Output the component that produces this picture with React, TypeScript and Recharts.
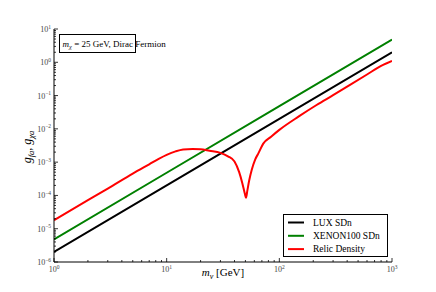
import { LineChart, Line, XAxis, YAxis, Legend } from 'recharts';

// readings for the exclusion limits (straight lines in log-log)
const limitMass = [1, 10, 100, 1000];
const luxSDn = [2e-6, 2e-4, 2e-2, 2];
const xenonSDn = [4.8e-6, 4.8e-4, 4.8e-2, 4.8];

// relic density curve
const relicMass = [1, 2, 3, 5, 7, 8.5, 10, 12, 14, 17, 20, 24, 30, 35, 40, 44, 47, 49.5, 50.6, 52, 54, 57, 61, 65, 72, 85, 100, 150, 214, 300, 424, 600, 800, 1000];
const relicCoupling = [1.8e-5, 7.2e-5, 1.6e-4, 4.5e-4, 8.6e-4, 1.25e-3, 1.65e-3, 2.1e-3, 2.4e-3, 2.5e-3, 2.45e-3, 2.2e-3, 1.9e-3, 1.5e-3, 1.05e-3, 5e-4, 2.3e-4, 1.1e-4, 8.5e-5, 1.4e-4, 2.8e-4, 6e-4, 1.2e-3, 1.8e-3, 3.6e-3, 5.9e-3, 9.3e-3, 2.4e-2, 5.2e-2, 0.103, 0.21, 0.43, 0.78, 1.1];

const seriesNames = ['LUX SDn', 'XENON100 SDn', 'Relic Density'];

const xMajor = [1, 10, 100, 1000];
const xExp = ['0', '1', '2', '3'];
const xMinor = [2, 3, 4, 5, 6, 7, 8, 9, 20, 30, 40, 50, 60, 70, 80, 90, 200, 300, 400, 500, 600, 700, 800, 900];
const yMajor = [1e-6, 1e-5, 1e-4, 1e-3, 1e-2, 1e-1, 1, 10];
const yExp = ['\u22126', '\u22125', '\u22124', '\u22123', '\u22122', '\u22121', '0', '1'];
const yMinor = [
  2e-6, 3e-6, 4e-6, 5e-6, 6e-6, 7e-6, 8e-6, 9e-6,
  2e-5, 3e-5, 4e-5, 5e-5, 6e-5, 7e-5, 8e-5, 9e-5,
  2e-4, 3e-4, 4e-4, 5e-4, 6e-4, 7e-4, 8e-4, 9e-4,
  2e-3, 3e-3, 4e-3, 5e-3, 6e-3, 7e-3, 8e-3, 9e-3,
  2e-2, 3e-2, 4e-2, 5e-2, 6e-2, 7e-2, 8e-2, 9e-2,
  0.2, 0.3, 0.4, 0.5, 0.6, 0.7, 0.8, 0.9,
  2, 3, 4, 5, 6, 7, 8, 9,
];

const limitData = limitMass.map((m, i) => ({ m, lux: luxSDn[i], xenon: xenonSDn[i] }));
const relicData = relicMass.map((m, i) => ({ m, relic: relicCoupling[i] }));

const FONT = '"Liberation Serif", "DejaVu Serif", serif';
const TICK_COLOR = '#444';

function tickLen(v: number, major: number[]) {
  return major.some(t => Math.abs(t / v - 1) < 1e-9) ? 4 : 2;
}

function BottomTick(props: any) {
  const { x, y, payload } = props;
  const i = xMajor.findIndex(t => Math.abs(t / payload.value - 1) < 1e-9);
  return (
    <g>
      <line x1={x} x2={x} y1={y} y2={y - tickLen(payload.value, xMajor)} stroke="#000" strokeWidth={0.8} />
      {i >= 0 && (
        <text x={x} y={y + 10} textAnchor="middle" fontSize={8} fill={TICK_COLOR} fontFamily={FONT}>
          10<tspan dy={-3.5} fontSize={5.5}>{xExp[i]}</tspan>
        </text>
      )}
    </g>
  );
}

function TopTick(props: any) {
  const { x, y, payload } = props;
  return <line x1={x} x2={x} y1={y} y2={y + tickLen(payload.value, xMajor)} stroke="#000" strokeWidth={0.8} />;
}

function LeftTick(props: any) {
  const { x, y, payload } = props;
  const i = yMajor.findIndex(t => Math.abs(t / payload.value - 1) < 1e-9);
  return (
    <g>
      <line x1={x} x2={x + tickLen(payload.value, yMajor)} y1={y} y2={y} stroke="#000" strokeWidth={0.8} />
      {i >= 0 && (
        <text x={x - 3} y={y + 3} textAnchor="end" fontSize={8} fill={TICK_COLOR} fontFamily={FONT}>
          10<tspan dy={-3.5} fontSize={5.5}>{yExp[i]}</tspan>
        </text>
      )}
    </g>
  );
}

function RightTick(props: any) {
  const { x, y, payload } = props;
  return <line x1={x} x2={x - tickLen(payload.value, yMajor)} y1={y} y2={y} stroke="#000" strokeWidth={0.8} />;
}

function LegendBox(props: any) {
  const items = [...(props.payload || [])].sort(
    (a: any, b: any) => seriesNames.indexOf(a.value) - seriesNames.indexOf(b.value)
  );
  return (
    <svg width={105} height={43} style={{ display: 'block' }}>
      <rect x={0.5} y={0.5} width={104} height={42} fill="#fff" stroke="#000" strokeWidth={1} />
      {items.map((it: any, i: number) => (
        <g key={it.value}>
          <line x1={5} x2={21} y1={8.5 + i * 13.3} y2={8.5 + i * 13.3} stroke={it.color} strokeWidth={2} />
          <text x={30} y={11.8 + i * 13.3} fontSize={9.5} fontFamily={FONT} fill="#000">{it.value}</text>
        </g>
      ))}
    </svg>
  );
}

export default function App() {
  return (
    <div style={{ position: 'relative', width: 436, height: 292, background: '#fff' }}>
      <style>{'body{margin:0}'}</style>
      <LineChart width={436} height={292} margin={{ top: 29, left: 14, right: 44, bottom: 0 }}>
        <XAxis
          xAxisId="b" dataKey="m" type="number" scale="log" domain={[1, 1000]} allowDataOverflow
          ticks={[...xMajor, ...xMinor]} interval={0} height={30} tickSize={0} tickMargin={0}
          tickLine={false} axisLine={{ stroke: '#000', strokeWidth: 1 }} tick={BottomTick}
        />
        <XAxis
          xAxisId="t" orientation="top" dataKey="m" type="number" scale="log" domain={[1, 1000]} allowDataOverflow
          ticks={[...xMajor, ...xMinor]} interval={0} height={0} tickSize={0} tickMargin={0}
          tickLine={false} axisLine={{ stroke: '#000', strokeWidth: 1 }} tick={TopTick}
        />
        <YAxis
          yAxisId="l" type="number" scale="log" domain={[1e-6, 10]} allowDataOverflow
          ticks={[...yMajor, ...yMinor]} interval={0} width={40} tickSize={0} tickMargin={0}
          tickLine={false} axisLine={{ stroke: '#000', strokeWidth: 1 }} tick={LeftTick}
        />
        <YAxis
          yAxisId="r" orientation="right" type="number" scale="log" domain={[1e-6, 10]} allowDataOverflow
          ticks={[...yMajor, ...yMinor]} interval={0} width={0} tickSize={0} tickMargin={0}
          tickLine={false} axisLine={{ stroke: '#000', strokeWidth: 1 }} tick={RightTick}
        />
        <Line xAxisId="b" yAxisId="l" data={limitData} dataKey="lux" name={seriesNames[0]} stroke="#000000" strokeWidth={2} dot={false} type="linear" isAnimationActive={false} />
        <Line xAxisId="b" yAxisId="l" data={limitData} dataKey="xenon" name={seriesNames[1]} stroke="#008000" strokeWidth={2} dot={false} type="linear" isAnimationActive={false} />
        <Line xAxisId="b" yAxisId="l" data={relicData} dataKey="relic" name={seriesNames[2]} stroke="#ff0000" strokeWidth={2} dot={false} type="monotone" isAnimationActive={false} />
        <Legend
          layout="vertical" align="center" verticalAlign="middle"
          wrapperStyle={{ position: 'absolute', left: 283, top: 214, width: 105, height: 43 }}
          content={LegendBox}
        />
      </LineChart>
      <svg width={436} height={292} style={{ position: 'absolute', left: 0, top: 0, pointerEvents: 'none' }} fontFamily={FONT}>
        <rect x={59.5} y={34.5} width={76} height={18} fill="#fff" stroke="#000" strokeWidth={1} />
        <text x={62.5} y={46.5} fontSize={9} fill="#000">
          <tspan fontStyle="italic">m</tspan>
          <tspan dy={2} fontSize={6.5} fontStyle="italic">χ</tspan>
          <tspan dy={-2}> = 25 GeV, Dirac Fermion</tspan>
        </text>
        <text x={223} y={276} fontSize={11} textAnchor="middle" fill="#000">
          <tspan fontStyle="italic">m</tspan>
          <tspan dy={2.5} fontSize={8} fontStyle="italic">v</tspan>
          <tspan dy={-2.5}> [GeV]</tspan>
        </text>
        <text x={0} y={0} fontSize={12} textAnchor="middle" fill="#000" transform="translate(31,147) rotate(-90)">
          <tspan fontStyle="italic">g</tspan>
          <tspan dy={3} fontSize={8.5} fontStyle="italic">fa</tspan>
          <tspan dy={-3}>, </tspan>
          <tspan fontStyle="italic">g</tspan>
          <tspan dy={3} fontSize={8.5} fontStyle="italic">χa</tspan>
        </text>
      </svg>
    </div>
  );
}
